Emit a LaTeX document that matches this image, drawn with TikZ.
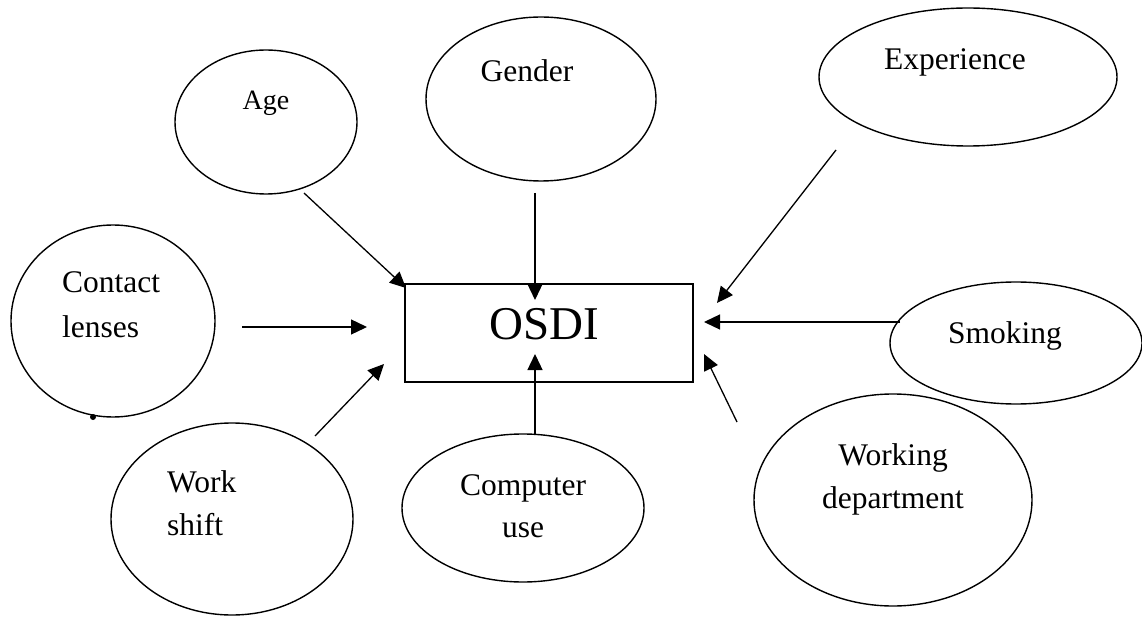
\documentclass[tikz,border=0pt]{standalone}
\usepackage{fontspec}
\setmainfont{Liberation Serif}
\usetikzlibrary{shapes.geometric,arrows.meta}
\tikzset{
  oval/.style={ellipse, draw, line width=1.4pt, inner sep=0pt},
  lbl/.style={font=\fontsize{31.5}{36}\selectfont, inner sep=0pt, anchor=base},
  lblw/.style={lbl, anchor=base west},
  arr/.style={line width=1.3pt, -{Triangle[length=16pt,width=15pt]}},
  boxst/.style={draw, line width=1.5pt, inner sep=0pt}
}
\begin{document}
\begin{tikzpicture}[x=1pt,y=-1pt]
\useasboundingbox (0,0) rectangle (1142,617);

% ellipses
\node[oval, minimum width=182pt, minimum height=144pt] (age) at (266,122) {};
\node[oval, minimum width=230pt, minimum height=164pt] (gender) at (541,99) {};
\node[oval, minimum width=298pt, minimum height=138pt] (exp) at (968,77) {};
\node[oval, minimum width=204pt, minimum height=192pt] (contact) at (113,321) {};
\node[oval, minimum width=242pt, minimum height=192pt] (shift) at (232,519) {};
\node[oval, minimum width=242pt, minimum height=148pt] (comp) at (523,508) {};
\node[oval, minimum width=252pt, minimum height=122pt] (smoke) at (1016,343) {};
\node[oval, minimum width=278pt, minimum height=212pt] (dept) at (893,500) {};

% central box
\node[boxst, minimum width=288pt, minimum height=98pt] (osdi) at (549,333) {};
\node[lbl, font=\fontsize{47}{52}\selectfont] (osditxt) at (544,339) {OSDI};

% labels
\node[lbl, font=\fontsize{28}{32}\selectfont] (agetxt) at (266,110) {Age};
\node[lbl] (gendertxt) at (527,82) {Gender};
\node[lbl] (exptxt) at (955,70) {Experience};
\node[lblw] (contacttxt1) at (62,293) {Contact};
\node[lblw] (contacttxt2) at (62,337) {lenses};
\node[lblw] (shifttxt1) at (167,492) {Work};
\node[lblw] (shifttxt2) at (167,535) {shift};
\node[lbl] (comptxt1) at (523,495) {Computer};
\node[lbl] (comptxt2) at (523,537) {use};
\node[lbl] (smoketxt) at (1005,343) {Smoking};
\node[lbl] (depttxt1) at (893,465) {Working};
\node[lbl] (depttxt2) at (893,508) {department};

% small bullet
\fill (93,417) circle (3pt);

% arrow end points
\coordinate (ageS) at (304,193);  \coordinate (ageE) at (406,288);
\coordinate (genS) at (535,193);  \coordinate (genE) at (535,300);
\coordinate (expS) at (836,150);  \coordinate (expE) at (717,303);
\coordinate (conS) at (242,327);  \coordinate (conE) at (367,327);
\coordinate (smoS) at (900,322);  \coordinate (smoE) at (704,322);
\coordinate (shfS) at (315,436);  \coordinate (shfE) at (384,364);
\coordinate (comS) at (535,435);  \coordinate (comE) at (535,354);
\coordinate (depS) at (737,422);  \coordinate (depE) at (704,354);

\draw[arr] (ageS) -- (ageE);
\draw[arr] (genS) -- (genE);
\draw[arr] (expS) -- (expE);
\draw[arr] (conS) -- (conE);
\draw[arr] (smoS) -- (smoE);
\draw[arr] (shfS) -- (shfE);
\draw[arr] (comS) -- (comE);
\draw[arr] (depS) -- (depE);
\end{tikzpicture}
\end{document}
